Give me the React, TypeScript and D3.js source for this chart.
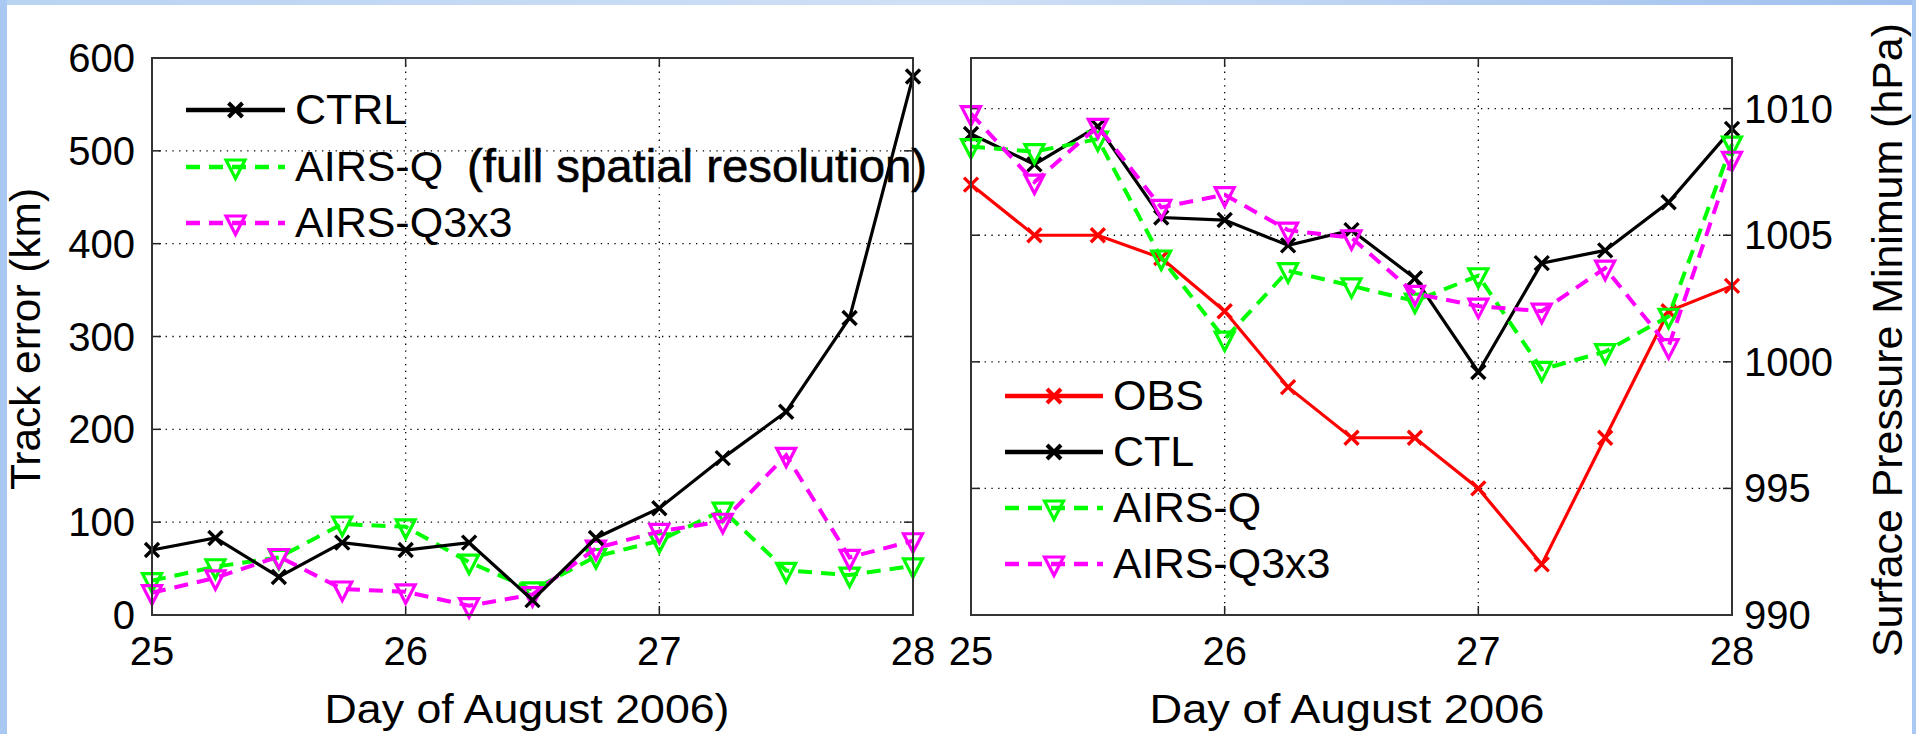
import React from "react";
import * as d3 from "d3";

const days = [25, 25.25, 25.5, 25.75, 26, 26.25, 26.5, 26.75, 27, 27.25, 27.5, 27.75, 28];

// Left panel: track error (km)
const trackCTRL = [70, 83, 41, 78, 70, 78, 16, 83, 115, 169, 219, 320, 580];
const trackAIRSQ = [37, 52, 62, 98, 95, 57, 27, 63, 80, 113, 48, 43, 53];
const trackAIRSQ3 = [24, 40, 63, 28, 25, 10, 22, 72, 90, 101, 172, 62, 80];

// Right panel: surface pressure minimum (hPa)
const presOBS = [1007, 1005, 1005, 1004.1, 1002, 999, 997, 997, 995, 992, 997, 1002, 1003];
const presCTL = [1009, 1007.8, 1009.3, 1005.7, 1005.6, 1004.6, 1005.2, 1003.3, 999.6, 1003.9, 1004.4, 1006.3, 1009.2];
const presAIRSQ = [1008.5, 1008.3, 1008.8, 1004.1, 1000.9, 1003.6, 1003.0, 1002.4, 1003.4, 999.7, 1000.4, 1001.8, 1008.6];
const presAIRSQ3 = [1009.8, 1007.1, 1009.3, 1006.1, 1006.6, 1005.2, 1004.9, 1002.7, 1002.2, 1002.0, 1003.7, 1000.6, 1008.0];

const xTicks = [25, 26, 27, 28];
const leftYTicks = [0, 100, 200, 300, 400, 500, 600];
const rightYTicks = [990, 995, 1000, 1005, 1010];

const leftLegend = ["CTRL", "AIRS-Q", "AIRS-Q3x3"];
const leftLegendNote = "(full spatial resolution)";
const rightLegend = ["OBS", "CTL", "AIRS-Q", "AIRS-Q3x3"];

const FONT = "'Liberation Sans', Arial, Helvetica, sans-serif";

type Series = { values: number[]; color: string; dashed: boolean; marker: "x" | "tri" };

function XMark({ x, y, color, sw = 3.4 }: { x: number; y: number; color: string; sw?: number }) {
  const s = 7;
  return (
    <g stroke={color} strokeWidth={sw}>
      <line x1={x - s} y1={y - s} x2={x + s} y2={y + s} />
      <line x1={x - s} y1={y + s} x2={x + s} y2={y - s} />
    </g>
  );
}

function TriMark({ x, y, color }: { x: number; y: number; color: string }) {
  const w = 9.5;
  const p = `M${x - w},${y - 7} L${x + w},${y - 7} L${x},${y + 11.5} Z`;
  return <path d={p} fill="none" stroke={color} strokeWidth={3.2} strokeLinejoin="miter" />;
}

function Panel({
  left, top, width, height, yDomain, yTicks, series, yAxisRight,
}: {
  left: number; top: number; width: number; height: number;
  yDomain: [number, number]; yTicks: number[]; series: Series[]; yAxisRight: boolean;
}) {
  const x = d3.scaleLinear().domain([25, 28]).range([left, left + width]);
  const y = d3.scaleLinear().domain(yDomain).range([top + height, top]);
  const line = d3.line<number>().x((_, i) => x(days[i])).y((v) => y(v));
  const tick = 9;
  return (
    <g>
      <rect x={left} y={top} width={width} height={height} fill="#fff" />
      {xTicks.slice(1, -1).map((t) => (
        <line key={"gx" + t} x1={x(t)} x2={x(t)} y1={top} y2={top + height} stroke="#000" strokeWidth={1.3} strokeDasharray="1.3 5.5" />
      ))}
      {yTicks.map((t) => (
        <line key={"gy" + t} x1={left} x2={left + width} y1={y(t)} y2={y(t)} stroke="#000" strokeWidth={1.3} strokeDasharray="1.3 5.5" />
      ))}
      {xTicks.map((t) => (
        <g key={"tx" + t} stroke="#222" strokeWidth={1.5}>
          <line x1={x(t)} x2={x(t)} y1={top + height} y2={top + height - tick} />
          <line x1={x(t)} x2={x(t)} y1={top} y2={top + tick} />
        </g>
      ))}
      {yTicks.map((t) => (
        <g key={"ty" + t} stroke="#222" strokeWidth={1.5}>
          <line x1={left} x2={left + tick} y1={y(t)} y2={y(t)} />
          <line x1={left + width} x2={left + width - tick} y1={y(t)} y2={y(t)} />
        </g>
      ))}
      {series.map((s, k) => (
        <g key={"s" + k}>
          <path d={line(s.values) || ""} fill="none" stroke={s.color} strokeWidth={s.dashed ? 4 : 3.2}
            strokeDasharray={s.dashed ? "14 9" : undefined} />
          {s.values.map((v, i) =>
            s.marker === "x" ? (
              <XMark key={i} x={x(days[i])} y={y(v)} color={s.color} />
            ) : (
              <TriMark key={i} x={x(days[i])} y={y(v)} color={s.color} />
            )
          )}
        </g>
      ))}
      <rect x={left} y={top} width={width} height={height} fill="none" stroke="#333" strokeWidth={2} />
      {xTicks.map((t) => (
        <text key={"lx" + t} x={x(t)} y={top + height + 50} textAnchor="middle" fontSize={40} fontFamily={FONT} fill="#000">
          {t}
        </text>
      ))}
      {yTicks.map((t) => (
        <text key={"ly" + t} x={yAxisRight ? left + width + 12 : left - 17} y={y(t) + 14}
          textAnchor={yAxisRight ? "start" : "end"} fontSize={40} fontFamily={FONT} fill="#000">
          {t}
        </text>
      ))}
    </g>
  );
}

function LegendRow({ x0, x1, y, s, label }: { x0: number; x1: number; y: number; s: Series; label: string }) {
  const mx = (x0 + x1) / 2;
  return (
    <g>
      <line x1={x0} x2={x1} y1={y} y2={y} stroke={s.color} strokeWidth={s.dashed ? 4.5 : 4.5}
        strokeDasharray={s.dashed ? "14 9" : undefined} />
      {s.marker === "x" ? <XMark x={mx} y={y} color={s.color} sw={4} /> : <TriMark x={mx} y={y} color={s.color} />}
      <text x={x1 + 10} y={y + 14} fontSize={43} fontFamily={FONT} fill="#000">
        {label}
      </text>
    </g>
  );
}

export default function App() {
  const leftSeries: Series[] = [
    { values: trackAIRSQ, color: "#00ff00", dashed: true, marker: "tri" },
    { values: trackAIRSQ3, color: "#ff00ff", dashed: true, marker: "tri" },
    { values: trackCTRL, color: "#000000", dashed: false, marker: "x" },
  ];
  const rightSeries: Series[] = [
    { values: presOBS, color: "#ff0000", dashed: false, marker: "x" },
    { values: presCTL, color: "#000000", dashed: false, marker: "x" },
    { values: presAIRSQ, color: "#00ff00", dashed: true, marker: "tri" },
    { values: presAIRSQ3, color: "#ff00ff", dashed: true, marker: "tri" },
  ];
  const legL = [leftSeries[2], leftSeries[0], leftSeries[1]];
  const legLY = [110, 167, 223];
  const legRY = [396, 452, 508, 564];

  return (
    <svg width={1916} height={734} style={{ position: "absolute", left: 0, top: 0, display: "block" }}>
      <defs>
        <linearGradient id="topband" x1="0" x2="1" y1="0" y2="0">
          <stop offset="0" stopColor="#b9d3f3" />
          <stop offset="0.5" stopColor="#cfe0f6" />
          <stop offset="1" stopColor="#9fc0ee" />
        </linearGradient>
      </defs>
      <rect x={0} y={0} width={1916} height={734} fill="#fff" />
      <rect x={0} y={0} width={1916} height={5} fill="url(#topband)" />
      <rect x={0} y={0} width={7} height={734} fill="#a9c8f2" />
      <rect x={1912} y={0} width={4} height={734} fill="#a9c8f2" />

      <Panel left={152} top={58} width={761} height={557} yDomain={[0, 600]} yTicks={leftYTicks}
        series={leftSeries} yAxisRight={false} />
      <Panel left={971} top={58} width={761} height={557} yDomain={[990, 1012]} yTicks={rightYTicks}
        series={rightSeries} yAxisRight={true} />

      {legL.map((s, i) => (
        <LegendRow key={"ll" + i} x0={186} x1={285} y={legLY[i]} s={s} label={leftLegend[i]} />
      ))}
      <text x={467} y={legLY[1] + 15} fontSize={46} fontFamily={FONT} fill="#000" stroke="#000" strokeWidth={0.6}
        textLength={460} lengthAdjust="spacingAndGlyphs">
        {leftLegendNote}
      </text>
      {rightSeries.map((s, i) => (
        <LegendRow key={"rl" + i} x0={1005} x1={1103} y={legRY[i]} s={s} label={rightLegend[i]} />
      ))}

      <text x={527} y={723} textAnchor="middle" fontSize={41} fontFamily={FONT} fill="#000"
        textLength={405} lengthAdjust="spacingAndGlyphs">Day of August 2006)</text>
      <text x={1347} y={723} textAnchor="middle" fontSize={41} fontFamily={FONT} fill="#000"
        textLength={395} lengthAdjust="spacingAndGlyphs">Day of August 2006</text>
      <text transform="translate(40,339) rotate(-90)" textAnchor="middle" fontSize={42} fontFamily={FONT} fill="#000"
        textLength={302} lengthAdjust="spacingAndGlyphs">Track error (km)</text>
      <text transform="translate(1902,340) rotate(-90)" textAnchor="middle" fontSize={43} fontFamily={FONT} fill="#000"
        textLength={634} lengthAdjust="spacingAndGlyphs">Surface Pressure Minimum (hPa)</text>
    </svg>
  );
}
